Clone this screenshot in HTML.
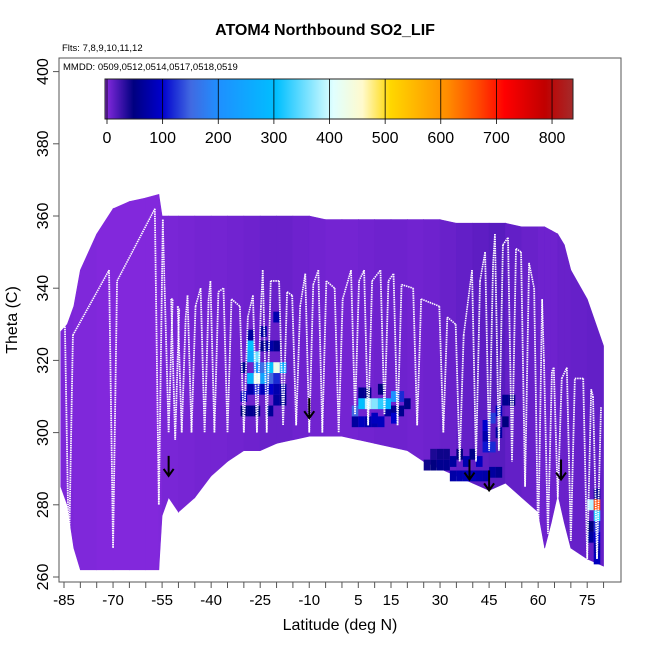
<!DOCTYPE html>
<html><head><meta charset="utf-8"><style>
body{margin:0;background:#fff;}
svg text{font-family:"Liberation Sans",sans-serif;}
</style></head><body>
<svg id="chart" width="650" height="650" viewBox="0 0 650 650" xmlns="http://www.w3.org/2000/svg">
<defs>
<linearGradient id="cbar" x1="0" x2="1" y1="0" y2="0">
<stop offset="0" stop-color="#8a2be2"/><stop offset="0.061" stop-color="#000080"/><stop offset="0.122" stop-color="#0000cd"/><stop offset="0.183" stop-color="#4169e1"/><stop offset="0.244" stop-color="#1e90ff"/><stop offset="0.366" stop-color="#00bfff"/><stop offset="0.488" stop-color="#e0ffff"/><stop offset="0.55" stop-color="#fffacd"/><stop offset="0.61" stop-color="#ffd700"/><stop offset="0.732" stop-color="#ff8c00"/><stop offset="0.8" stop-color="#ff4500"/><stop offset="0.854" stop-color="#ff0000"/><stop offset="0.94" stop-color="#c00000"/><stop offset="1" stop-color="#a52a2a"/>
</linearGradient>
<clipPath id="plotclip"><rect x="59" y="58" width="562" height="524"/></clipPath>
</defs>
<text x="325" y="35" text-anchor="middle" font-size="16" font-weight="bold">ATOM4 Northbound SO2_LIF</text>
<text x="62" y="51" font-size="9.5">Flts: 7,8,9,10,11,12</text>
<g id="plot" clip-path="url(#plotclip)"></g>
<rect x="59" y="58" width="562" height="524" fill="none" stroke="#555" stroke-width="1"/>
<text x="63" y="70" font-size="9.5">MMDD: 0509,0512,0514,0517,0518,0519</text>
<g id="colorbar">
<rect x="105" y="79" width="468" height="40" fill="url(#cbar)" stroke="#222" stroke-width="1"/>
</g>
<g id="axes"></g>
<text x="340" y="630" text-anchor="middle" font-size="16">Latitude (deg N)</text>
<text transform="translate(17,320) rotate(-90)" text-anchor="middle" font-size="16">Theta (C)</text>
</svg>
<script>
// ---- data ----
const colLats = [-86,-84,-82,-80,-75,-70,-65,-60,-56,-55,-53,-50,-45,-40,-35,-30,-25,-20,-15,-10,-5,0,5,10,15,20,25,30,35,40,45,50,55,60,62,64,66,68,70,75,80];
const colTops = [328,330,335,345,355,362,364,365,366,360,360,360,360,360,360,360,360,360,360,360,359,359,359,359,359,359,359,359,358,358,358,358,357,357,357,356,355,352,345,337,324];
const colBots = [285,280,268,262,262,262,262,262,262,277,282,278,282,288,292,295,295,297,298,299,299,299,298,297,296,295,292,290,288,286,284,286,282,278,268,275,283,275,268,265,263];
const colVals = [5,5,4,4,3,3,3,3,4,6,6,7,8,8,9,10,12,12,10,9,8,8,9,10,10,9,10,12,14,16,18,14,12,10,10,10,12,12,13,14,16];
const hotLats = [-28,-28,-26,-26,-24,-22,-20,-18,-28,-26,-24,-22,-20,-30,-24,-20,6,8,10,12,14,16,18,4,10,16,34,38,42,44,46,44,46,48,78,78,78,78,76,
  -30,-28,-26,-24,-22,-20,-18,-30,-28,-26,-22,-20,-18,-28,-24,-22,-20, 4,6,8,10,12,14,16,18,20,6,8,12,
  26,28,30,32,34,36,38,40,42,44,46,48,28,30,32,36,40,44,48,50,50,52, 78,78,78,76,76];
const hotThetas = [324,321,321,318,318,318,318,318,315,315,315,315,315,310,328,332,308,308,308,308,308,310,310,306,304,304,292,292,292,296,296,302,304,306,280,277,274,271,280,
  318,312,312,312,312,312,312,306,306,306,306,309,309,327,324,324,324, 303,303,303,303,303,306,306,306,308,311,311,312,
  291,291,291,291,288,288,288,288,288,288,289,289,294,294,294,294,294,299,300,303,309,309, 268,265,283,274,271];
const hotVals = [300,260,350,200,160,300,420,250,280,420,240,150,120,90,70,80,300,380,360,320,280,200,120,150,90,100,70,80,90,110,120,100,130,90,650,320,120,100,380,
  60,80,110,90,100,80,70,50,60,55,65,70,60,70,60,75,60, 70,90,80,80,90,70,65,60,55,60,55,50,
  45,50,60,60,75,80,85,85,80,75,70,60,40,45,45,50,55,80,70,50,60,55, 80,90,60,50,70];
const profLats = [-83.5,-70,-56,-53,-51,-49,-46,-42,-39,-35,-30,-26,-23,-18,-14,-10,-6,-1,4,8,13,17,23,31,36,41,45,48,52,56,60,63,66,70,75,78];
const profTops = [330,345,362,340,337,335,338,340,342,340,335,338,345,342,338,344,345,340,345,345,345,344,340,335,330,345,350,355,354,350,340,320,318,318,315,310];
const profBots = [265,268,280,300,298,300,300,300,300,300,300,300,300,302,302,300,300,300,305,302,305,302,302,300,292,292,295,295,292,285,270,272,282,270,265,265];
const arrowLats = [-53,-10,39,45,67];
const arrowThetas = [288,304,287,284,287];
const xTicks = [-85,-70,-55,-40,-25,-10,5,15,30,45,60,75];
const yTicks = [260,280,300,320,340,360,380,400];
const cbTicks = [0,100,200,300,400,500,600,700,800];

// ---- scales ----
const X = lat => 64 + (lat + 85) * 3.27;
const Y = th => 577 - (th - 260) * 3.61;
const CB = v => 107 + v * 0.5563;
const stops = [[0,[138,43,226]],[50,[0,0,128]],[100,[0,0,205]],[150,[65,105,225]],[200,[30,144,255]],[300,[0,191,255]],[400,[224,255,255]],[450,[255,250,205]],[500,[255,215,0]],[600,[255,140,0]],[700,[255,0,0]],[800,[178,34,34]]];
function col(v){
  for(let i=0;i<stops.length-1;i++){
    const a=stops[i],b=stops[i+1];
    if(v<=b[0]){const t=Math.max(0,(v-a[0])/(b[0]-a[0]));
      return 'rgb('+a[1].map((c,k)=>Math.round(c+(b[1][k]-c)*t)).join(',')+')';}
  }
  return 'rgb(178,34,34)';
}
const NS='http://www.w3.org/2000/svg';
function mk(tag,attrs,parent){const e=document.createElementNS(NS,tag);for(const k in attrs)e.setAttribute(k,attrs[k]);parent.appendChild(e);return e;}
const plot=document.getElementById('plot');
const axes=document.getElementById('axes');
const cb=document.getElementById('colorbar');

for(let i=0;i<colLats.length-1;i++){
  const x0=X(colLats[i]),x1=X(colLats[i+1]);
  const pts=[[x0,Y(colTops[i])],[x1,Y(colTops[i+1])],[x1,Y(colBots[i+1])],[x0,Y(colBots[i])]].map(p=>p.join(',')).join(' ');
  const p=mk('polygon',{points:pts,fill:col(colVals[i]),stroke:col(colVals[i]),'stroke-width':0.6},plot);
  
  
}
// draw darker (low) cells first, bright on top
const order=hotVals.map((v,i)=>i).sort((a,b)=>hotVals[a]-hotVals[b]);
order.forEach(i=>{
  const r=mk('rect',{x:X(hotLats[i]-1),y:Y(hotThetas[i]+1.5),width:2*3.27,height:3*3.61,fill:col(hotVals[i])},plot);
  
  
});
for(let i=0;i<profLats.length;i++){
  const xl=X(profLats[i]),w=4;
  const d='M'+(xl-w)+','+Y(profTops[i])+' L'+xl+','+Y(profBots[i])+' L'+(xl+w)+','+Y(profTops[i]-3);
  const p=mk('path',{d:d,fill:'none',stroke:'#fff','stroke-width':1.8,'stroke-dasharray':'1.5 0.8'},plot);
  
  
  if(i<profLats.length-1){
    const q=mk('path',{d:'M'+(xl+w)+','+Y(profTops[i]-3)+' L'+(X(profLats[i+1])-w)+','+Y(profTops[i+1]),fill:'none',stroke:'#fff','stroke-width':1.6,'stroke-dasharray':'1.5 0.8'},plot);
    
    
  }
}
for(let i=0;i<arrowLats.length;i++){
  const x=X(arrowLats[i]),y=Y(arrowThetas[i]);
  const a=mk('path',{d:'M'+x+','+(y-20)+' L'+x+','+y+' M'+(x-5)+','+(y-7)+' L'+x+','+y+' L'+(x+5)+','+(y-7),fill:'none',stroke:'#000','stroke-width':2},plot);
  
  
}
mk('line',{x1:X(-85),x2:X(80),y1:582,y2:582,stroke:'#555'},axes);
for(let v=-85;v<=80;v+=5){
  const t=mk('line',{x1:X(v),x2:X(v),y1:582,y2:588,stroke:'#555'},axes);
  
  
}
xTicks.forEach(v=>{
  const t=mk('text',{x:X(v),y:605,'text-anchor':'middle','font-size':15},axes);t.textContent=v;
  
  
});
yTicks.forEach(v=>{
  const l=mk('line',{x1:53,x2:59,y1:Y(v),y2:Y(v),stroke:'#555'},axes);
  
  
  const t=mk('text',{'text-anchor':'middle','font-size':16,transform:'translate(48,'+Y(v)+') rotate(-90)'},axes);t.textContent=v;
  
  
});
cbTicks.forEach(v=>{
  const l=mk('line',{x1:CB(v),x2:CB(v),y1:79,y2:124,stroke:'#000','stroke-width':0.8},cb);
  
  
  const t=mk('text',{x:CB(v),y:143,'text-anchor':'middle','font-size':16},cb);t.textContent=v;
  
  
});
</script>
</body></html>
